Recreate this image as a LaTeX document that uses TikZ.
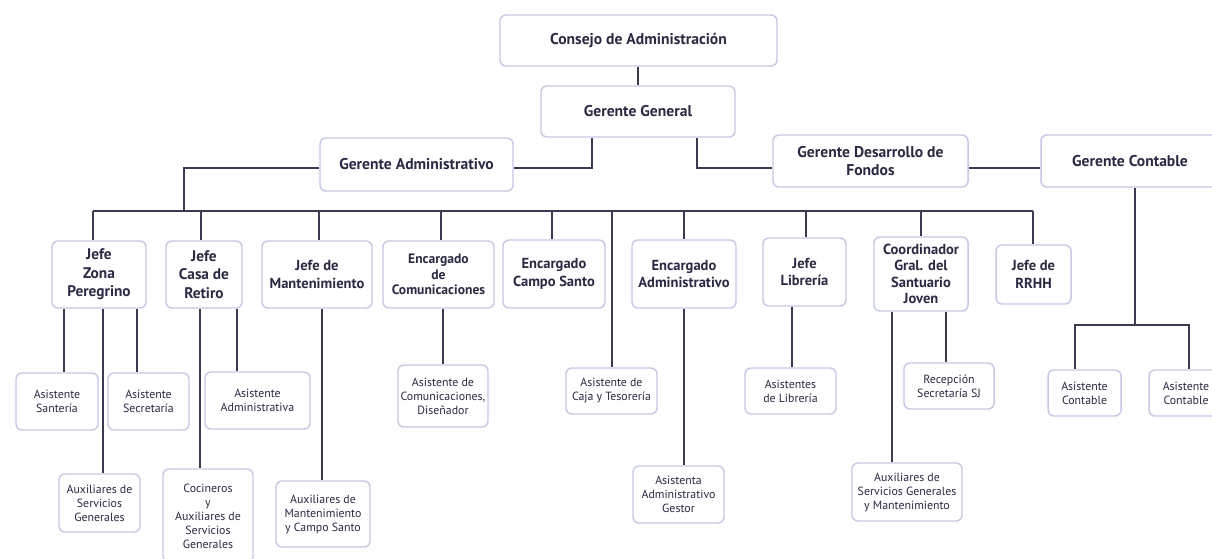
\documentclass[tikz,border=0pt]{standalone}
\usepackage{fontspec}
\setmainfont{PT Sans}
\definecolor{boxc}{HTML}{C6C9E4}
\definecolor{linec}{HTML}{3A3A50}
\definecolor{txtc}{HTML}{2A2A44}
\tikzset{
  box/.style={draw=boxc, line width=1.1pt, rounded corners=4.5pt, fill=white, text=txtc, align=center, inner sep=0pt},
  top/.style={box, font=\fontsize{11.7}{14}\selectfont\bfseries},
  hd/.style={box, font=\fontsize{10.9}{13}\selectfont\bfseries},
  hdc/.style={box, font=\fontsize{10.9}{12.2}\selectfont\bfseries},
  hdb/.style={box, font=\fontsize{11.5}{14}\selectfont\bfseries},
  hds/.style={box, font=\fontsize{10.2}{11.8}\selectfont\bfseries},
  sub/.style={box, font=\fontsize{8.9}{10.5}\selectfont},
  ln/.style={draw=linec, line width=1.2pt},
}
\newcommand\orgbox[7]{\node[#1, minimum width={(#5-#3)*0.75pt}, minimum height={(#6-#4)*0.75pt}] (#2) at ({(#3+#5)/2},{(#4+#6)/2}) {#7};}
\begin{document}
\begin{tikzpicture}[x=0.75pt,y=-0.75pt]
\useasboundingbox (0,0) rectangle (1212,558);
% top level
\orgbox{top}{cons}{500}{15}{777}{66}{Consejo de Administración}
\orgbox{top}{gg}{541}{86}{735}{137}{Gerente General}
\orgbox{top}{gadm}{320}{138}{513}{191}{Gerente Administrativo}
\orgbox{top}{gdf}{773}{135}{968}{187}{Gerente Desarrollo de\\Fondos}
\orgbox{top}{gcont}{1041}{135}{1219}{187}{Gerente Contable}
% second level
\orgbox{hdb}{jzp}{52}{241}{146}{308}{Jefe\\Zona\\Peregrino}
\orgbox{hdb}{jcr}{166}{241}{242}{308}{Jefe\\Casa de\\Retiro}
\orgbox{hd}{jman}{262}{241}{372}{308}{Jefe de\\Mantenimiento}
\orgbox{hds}{ecom}{383}{241}{494}{308}{Encargado\\de\\Comunicaciones}
\orgbox{hd}{ecs}{503}{240}{605}{308}{Encargado\\Campo Santo}
\orgbox{hd}{eadm}{632}{240}{736}{308}{Encargado\\Administrativo}
\orgbox{hd}{jlib}{763}{238}{846}{306}{Jefe\\Librería}
\orgbox{hdc}{coord}{874}{237}{968}{311}{Coordinador\\Gral. del\\Santuario\\Joven}
\orgbox{hd}{rrhh}{996}{245}{1071}{304}{Jefe de\\RRHH}
% third level
\orgbox{sub}{sant}{16}{373}{98}{430}{Asistente\\Santería}
\orgbox{sub}{secr}{108}{373}{189}{430}{Asistente\\Secretaría}
\orgbox{sub}{auxsg}{59}{474}{140}{532}{Auxiliares de\\Servicios\\Generales}
\orgbox{sub}{asadm}{205}{372}{310}{429}{Asistente\\Administrativa}
\orgbox{sub}{coc}{163}{469}{253}{563}{Cocineros\\y\\Auxiliares de\\Servicios\\Generales}
\orgbox{sub}{auxman}{276}{481}{370}{547}{Auxiliares de\\Mantenimiento\\y Campo Santo}
\orgbox{sub}{ascom}{398}{365}{488}{427}{Asistente de\\Comunicaciones,\\Diseñador}
\orgbox{sub}{caja}{566}{368}{657}{414}{Asistente de\\Caja y Tesorería}
\orgbox{sub}{gest}{633}{466}{724}{523}{Asistenta\\Administrativo\\Gestor}
\orgbox{sub}{aslib}{745}{368}{836}{414}{Asistentes\\de Librería}
\orgbox{sub}{recep}{904}{363}{994}{409}{Recepción\\Secretaría SJ}
\orgbox{sub}{auxsj}{852}{463}{962}{521}{Auxiliares de\\Servicios Generales\\y Mantenimiento}
\orgbox{sub}{cont1}{1048}{370}{1121}{416}{Asistente\\Contable}
\orgbox{sub}{cont2}{1149}{370}{1223}{416}{Asistente\\Contable}
% helper coordinates
\coordinate (hy) at (0,168);
\coordinate (bl) at (93,211);
\coordinate (br) at (1033,211);
\coordinate (bc) at (184,211);
\coordinate (x592) at (592,0);
\coordinate (x697) at (697,0);
\coordinate (d2) at (201,211);
\coordinate (d3) at (319,211);
\coordinate (d4) at (441,211);
\coordinate (d5) at (552,211);
\coordinate (d6) at (612,211);
\coordinate (d7) at (684,211);
\coordinate (d8) at (806,211);
\coordinate (d9) at (921,211);
\coordinate (s1) at (64,0);
\coordinate (s2) at (137,0);
\coordinate (s3) at (103,0);
\coordinate (s4) at (237,0);
\coordinate (s5) at (200,0);
\coordinate (s6) at (322,0);
\coordinate (s7) at (443,0);
\coordinate (s8) at (684,0);
\coordinate (s9) at (792,0);
\coordinate (s10) at (946,0);
\coordinate (s11) at (892,0);
\coordinate (gcx) at (1135,0);
\coordinate (cb) at (1135,325);
\coordinate (c1) at (1075,325);
\coordinate (c2) at (1189,325);
% connectors
\draw[ln] (cons.south -| gg.north) -- (gg.north);
\draw[ln] (x592 |- gg.south) -- (x592 |- hy) -- (gadm.east |- hy);
\draw[ln] (x697 |- gg.south) -- (x697 |- hy) -- (gdf.west |- hy);
\draw[ln] (gdf.east |- hy) -- (gcont.west |- hy);
\draw[ln] (gadm.west |- hy) -| (bc);
\draw[ln] (bl) -- (br);
\draw[ln] (bl) -- (bl |- jzp.north);
\draw[ln] (d2) -- (d2 |- jcr.north);
\draw[ln] (d3) -- (d3 |- jman.north);
\draw[ln] (d4) -- (d4 |- ecom.north);
\draw[ln] (d5) -- (d5 |- ecs.north);
\draw[ln] (d6) -- (d6 |- caja.north);
\draw[ln] (d7) -- (d7 |- eadm.north);
\draw[ln] (d8) -- (d8 |- jlib.north);
\draw[ln] (d9) -- (d9 |- coord.north);
\draw[ln] (br) -- (br |- rrhh.north);
\draw[ln] (s1 |- jzp.south) -- (s1 |- sant.north);
\draw[ln] (s2 |- jzp.south) -- (s2 |- secr.north);
\draw[ln] (s3 |- jzp.south) -- (s3 |- auxsg.north);
\draw[ln] (s4 |- jcr.south) -- (s4 |- asadm.north);
\draw[ln] (s5 |- jcr.south) -- (s5 |- coc.north);
\draw[ln] (s6 |- jman.south) -- (s6 |- auxman.north);
\draw[ln] (s7 |- ecom.south) -- (s7 |- ascom.north);
\draw[ln] (s8 |- eadm.south) -- (s8 |- gest.north);
\draw[ln] (s9 |- jlib.south) -- (s9 |- aslib.north);
\draw[ln] (s10 |- coord.south) -- (s10 |- recep.north);
\draw[ln] (s11 |- coord.south) -- (s11 |- auxsj.north);
\draw[ln] (gcx |- gcont.south) -- (cb);
\draw[ln] (c1 |- cont1.north) -- (c1) -- (c2) -- (c2 |- cont2.north);
\end{tikzpicture}
\end{document}
